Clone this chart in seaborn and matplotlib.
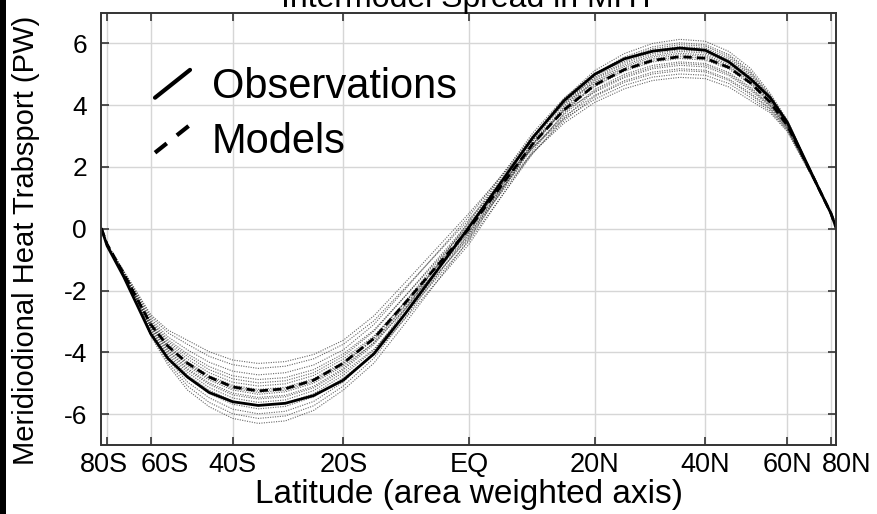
import numpy as np
import pandas as pd
import matplotlib
matplotlib.use("Agg")
import matplotlib.pyplot as plt
import matplotlib.transforms as mtransforms
import seaborn as sns
from matplotlib.lines import Line2D
from matplotlib.legend_handler import HandlerLine2D
from matplotlib.patches import Rectangle

# ---------------- data ----------------
LAT = [-90, -80, -70, -60, -55, -50, -45, -40, -35, -30, -25, -20, -15, -10, 0,
       10, 15, 20, 25, 30, 35, 40, 45, 50, 55, 60, 70, 80, 90]

OBS = [0, -0.55, -1.55, -3.40, -4.20, -4.80, -5.30, -5.60, -5.72, -5.65, -5.40, -4.90, -4.05, -2.75, 0.05,
       2.95, 4.15, 5.00, 5.50, 5.75, 5.85, 5.78, 5.40, 4.85, 4.25, 3.45, 1.60, 0.50, 0]
MODEL_MEAN = [0, -0.50, -1.45, -3.10, -3.80, -4.35, -4.80, -5.12, -5.25, -5.18, -4.90, -4.35, -3.55, -2.40, 0.00,
              2.75, 3.85, 4.65, 5.15, 5.45, 5.57, 5.52, 5.22, 4.72, 4.10, 3.35, 1.60, 0.50, 0]

MODEL_01 = [0, -0.49, -1.36, -2.78, -3.28, -3.61, -3.98, -4.25, -4.36, -4.30, -4.07, -3.61, -2.82, -1.74, 0.50, 2.86, 3.81, 4.42, 4.89, 5.18, 5.29, 5.24, 4.96, 4.48, 3.96, 3.27, 1.58, 0.50, 0]
MODEL_02 = [0, -0.49, -1.38, -2.84, -3.37, -3.74, -4.13, -4.40, -4.52, -4.45, -4.21, -3.74, -2.98, -1.91, 0.30, 2.63, 3.56, 4.19, 4.64, 4.91, 5.01, 4.97, 4.70, 4.25, 3.81, 3.18, 1.55, 0.49, 0]
MODEL_03 = [0, -0.49, -1.40, -2.91, -3.50, -3.92, -4.32, -4.61, -4.73, -4.66, -4.41, -3.92, -3.10, -1.96, 0.40, 3.01, 4.05, 4.74, 5.25, 5.56, 5.68, 5.63, 5.32, 4.81, 4.16, 3.38, 1.61, 0.50, 0]
MODEL_04 = [0, -0.49, -1.41, -2.97, -3.59, -4.05, -4.46, -4.76, -4.88, -4.82, -4.56, -4.05, -3.28, -2.18, 0.10, 2.47, 3.42, 4.09, 4.53, 4.80, 4.90, 4.86, 4.59, 4.15, 3.76, 3.15, 1.54, 0.49, 0]
MODEL_05 = [0, -0.50, -1.42, -3.01, -3.65, -4.13, -4.56, -4.86, -4.99, -4.92, -4.66, -4.13, -3.32, -2.18, 0.20, 2.99, 4.10, 4.88, 5.41, 5.72, 5.85, 5.80, 5.48, 4.96, 4.24, 3.43, 1.62, 0.50, 0]
MODEL_06 = [0, -0.50, -1.43, -3.04, -3.71, -4.22, -4.66, -4.97, -5.09, -5.02, -4.75, -4.22, -3.47, -2.38, -0.10, 2.62, 3.70, 4.51, 5.00, 5.29, 5.40, 5.35, 5.06, 4.58, 4.01, 3.30, 1.59, 0.50, 0]
MODEL_07 = [0, -0.50, -1.44, -3.08, -3.77, -4.31, -4.75, -5.07, -5.20, -5.13, -4.85, -4.31, -3.51, -2.38, 0.00, 2.75, 3.85, 4.65, 5.15, 5.45, 5.57, 5.52, 5.22, 4.72, 4.10, 3.35, 1.60, 0.50, 0]
MODEL_08 = [0, -0.50, -1.45, -3.10, -3.80, -4.35, -4.80, -5.12, -5.25, -5.18, -4.90, -4.35, -3.60, -2.50, -0.20, 2.84, 4.06, 4.98, 5.51, 5.83, 5.96, 5.91, 5.59, 5.05, 4.30, 3.47, 1.63, 0.51, 0]
MODEL_09 = [0, -0.50, -1.46, -3.12, -3.83, -4.39, -4.85, -5.17, -5.30, -5.23, -4.95, -4.39, -3.55, -2.35, 0.15, 2.63, 3.63, 4.32, 4.79, 5.07, 5.18, 5.13, 4.85, 4.39, 3.90, 3.23, 1.57, 0.49, 0]
MODEL_10 = [0, -0.50, -1.46, -3.14, -3.86, -4.44, -4.90, -5.22, -5.36, -5.28, -5.00, -4.44, -3.70, -2.60, -0.30, 2.68, 3.88, 4.79, 5.30, 5.61, 5.74, 5.69, 5.38, 4.86, 4.19, 3.40, 1.61, 0.50, 0]
MODEL_11 = [0, -0.50, -1.47, -3.17, -3.92, -4.52, -4.99, -5.32, -5.46, -5.39, -5.10, -4.52, -3.68, -2.47, 0.05, 2.75, 3.83, 4.60, 5.10, 5.40, 5.51, 5.46, 5.17, 4.67, 4.07, 3.33, 1.60, 0.50, 0]
MODEL_12 = [0, -0.50, -1.48, -3.19, -3.95, -4.57, -5.04, -5.38, -5.51, -5.44, -5.15, -4.57, -3.75, -2.57, -0.10, 2.98, 4.21, 5.12, 5.67, 6.00, 6.13, 6.07, 5.74, 5.19, 4.39, 3.52, 1.65, 0.51, 0]
MODEL_13 = [0, -0.51, -1.49, -3.23, -4.01, -4.65, -5.14, -5.48, -5.62, -5.54, -5.24, -4.65, -3.90, -2.77, -0.40, 2.44, 3.58, 4.46, 4.94, 5.23, 5.35, 5.30, 5.01, 4.53, 3.99, 3.28, 1.58, 0.50, 0]
MODEL_14 = [0, -0.51, -1.50, -3.27, -4.07, -4.74, -5.23, -5.58, -5.72, -5.65, -5.34, -4.74, -3.93, -2.74, -0.25, 2.74, 3.93, 4.84, 5.36, 5.67, 5.79, 5.74, 5.43, 4.91, 4.21, 3.42, 1.62, 0.50, 0]
MODEL_15 = [0, -0.51, -1.51, -3.30, -4.13, -4.83, -5.33, -5.68, -5.83, -5.75, -5.44, -4.83, -4.07, -2.91, -0.50, 2.53, 3.74, 4.70, 5.20, 5.50, 5.63, 5.58, 5.27, 4.77, 4.13, 3.37, 1.61, 0.50, 0]
MODEL_16 = [0, -0.51, -1.52, -3.36, -4.23, -4.96, -5.47, -5.84, -5.99, -5.91, -5.59, -4.96, -3.99, -2.61, 0.25, 3.10, 4.23, 5.02, 5.56, 5.89, 6.02, 5.96, 5.64, 5.10, 4.33, 3.48, 1.64, 0.51, 0]
MODEL_17 = [0, -0.51, -1.54, -3.42, -4.32, -5.09, -5.62, -5.99, -6.14, -6.06, -5.73, -5.09, -4.19, -2.88, -0.15, 2.45, 3.50, 4.28, 4.74, 5.01, 5.12, 5.08, 4.80, 4.34, 3.87, 3.22, 1.56, 0.49, 0]
MODEL_18 = [0, -0.52, -1.55, -3.47, -4.41, -5.22, -5.76, -6.14, -6.30, -6.22, -5.88, -5.22, -4.35, -3.06, -0.35, 2.74, 3.98, 4.93, 5.46, 5.78, 5.90, 5.85, 5.53, 5.00, 4.27, 3.45, 1.63, 0.50, 0]

MODELS = [MODEL_01, MODEL_02, MODEL_03, MODEL_04, MODEL_05, MODEL_06, MODEL_07, MODEL_08, MODEL_09,
          MODEL_10, MODEL_11, MODEL_12, MODEL_13, MODEL_14, MODEL_15, MODEL_16, MODEL_17, MODEL_18]

XTICKS = [-80, -60, -40, -20, 0, 20, 40, 60, 80]
XTICK_LABELS = ["80S", "60S", "40S", "20S", "EQ", "20N", "40N", "60N", "80N"]
YTICKS = [-6, -4, -2, 0, 2, 4, 6]
YTICK_LABELS = ["-6", "-4", "-2", "0", "2", "4", "6"]

TITLE = "Intermodel Spread in MHT"
XLABEL = "Latitude (area weighted axis)"
YLABEL = "Meridiodional Heat Trabsport (PW)"
LEGEND_LABELS = ["Observations", "Models"]

# ---------------- style ----------------
sns.set_theme(style="white")
plt.rcParams["font.family"] = ["Liberation Sans", "DejaVu Sans"]
plt.rcParams["axes.unicode_minus"] = False
plt.rcParams["text.color"] = "black"

W, H = 878, 514
fig = plt.figure(figsize=(W / 100, H / 100), dpi=100)
fig.patch.set_facecolor("white")
ax = fig.add_axes([101.5 / W, 1 - 445 / H, 735 / W, 432.5 / H])


def fwd(d):
    return np.sin(np.deg2rad(d))


def inv(s):
    return np.rad2deg(np.arcsin(np.clip(s, -1, 1)))


ax.set_xscale("function", functions=(fwd, inv))

rows = []
for i, vals in enumerate(MODELS):
    for lat, v in zip(LAT, vals):
        rows.append({"model": f"m{i+1:02d}", "lat": lat, "mht": v})
df_models = pd.DataFrame(rows)

sns.lineplot(data=df_models, x="lat", y="mht", units="model", estimator=None,
             color="0.2", lw=0.8, linestyle=(0, (1, 1.2)), alpha=0.75,
             ax=ax, legend=False, sort=False, zorder=2)
sns.lineplot(x=LAT, y=OBS, color="black", lw=2.0, ax=ax, legend=False, sort=False, zorder=4)
sns.lineplot(x=LAT, y=MODEL_MEAN, color="black", lw=2.0, linestyle=(0, (3, 1.8)),
             ax=ax, legend=False, sort=False, zorder=4)

ax.set_xlim(-90, 90)
ax.set_ylim(-7, 7)
ax.minorticks_off()
ax.set_xticks(XTICKS, XTICK_LABELS)
ax.set_yticks(YTICKS, YTICK_LABELS)
ax.grid(True, color="#d6d6d6", lw=1.0, zorder=0)
ax.set_axisbelow(True)
for sp in ax.spines.values():
    sp.set_color("#333333")
    sp.set_linewidth(1.4)
    sp.set_zorder(5)
ax.tick_params(axis="both", direction="in", length=6, width=1.2, color="#333333",
               top=True, right=True, bottom=True, left=True, labelcolor="black")
ax.tick_params(axis="x", labelsize=19.5, pad=5)
ax.tick_params(axis="y", labelsize=19, pad=10.5)

# small horizontal nudges of crowded latitude labels (pixels)
X_LABEL_NUDGE = [-3, 14, 0, 0, 0, 0, 0, 0, 16]
for lab, dx in zip(ax.xaxis.get_majorticklabels(), X_LABEL_NUDGE):
    lab.set_transform(lab.get_transform() +
                      mtransforms.ScaledTranslation(dx / 100, 0, fig.dpi_scale_trans))

ax.set_xlabel(XLABEL, fontsize=24, color="black")
ax.set_ylabel(YLABEL, fontsize=21, color="black")
ax.xaxis.set_label_coords(0.5, -0.078)
ax.yaxis.set_label_coords(-0.083, 0.473)

fig.text(469 / W, 1 - 7 / H, TITLE, ha="center", va="baseline", fontsize=23, color="black")


class DiagonalHandler(HandlerLine2D):
    def create_artists(self, legend, orig_handle, xdescent, ydescent, width, height, fontsize, trans):
        x0, y0 = -xdescent, -ydescent
        line = Line2D([x0, x0 + width], [y0, y0 + height])
        self.update_prop(line, orig_handle, legend)
        line.set_transform(trans)
        return [line]


h_obs = Line2D([], [], color="black", lw=3.0, linestyle="-")
h_mod = Line2D([], [], color="black", lw=3.0, linestyle=(0, (3.6, 3.1)))
leg = ax.legend([h_obs, h_mod], LEGEND_LABELS, loc="upper left",
                bbox_to_anchor=(0.0728, 0.873), frameon=False, fontsize=30,
                handlelength=0.84, handleheight=0.65, handletextpad=0.53,
                labelspacing=0.36, borderpad=0, borderaxespad=0,
                handler_map={Line2D: DiagonalHandler()})
for t in leg.get_texts():
    t.set_color("black")

fig.add_artist(Rectangle((0, 0), 6 / W, 1, transform=fig.transFigure,
                         facecolor="black", edgecolor="none", zorder=10))

fig.savefig("out.png", dpi=100, facecolor="white")
